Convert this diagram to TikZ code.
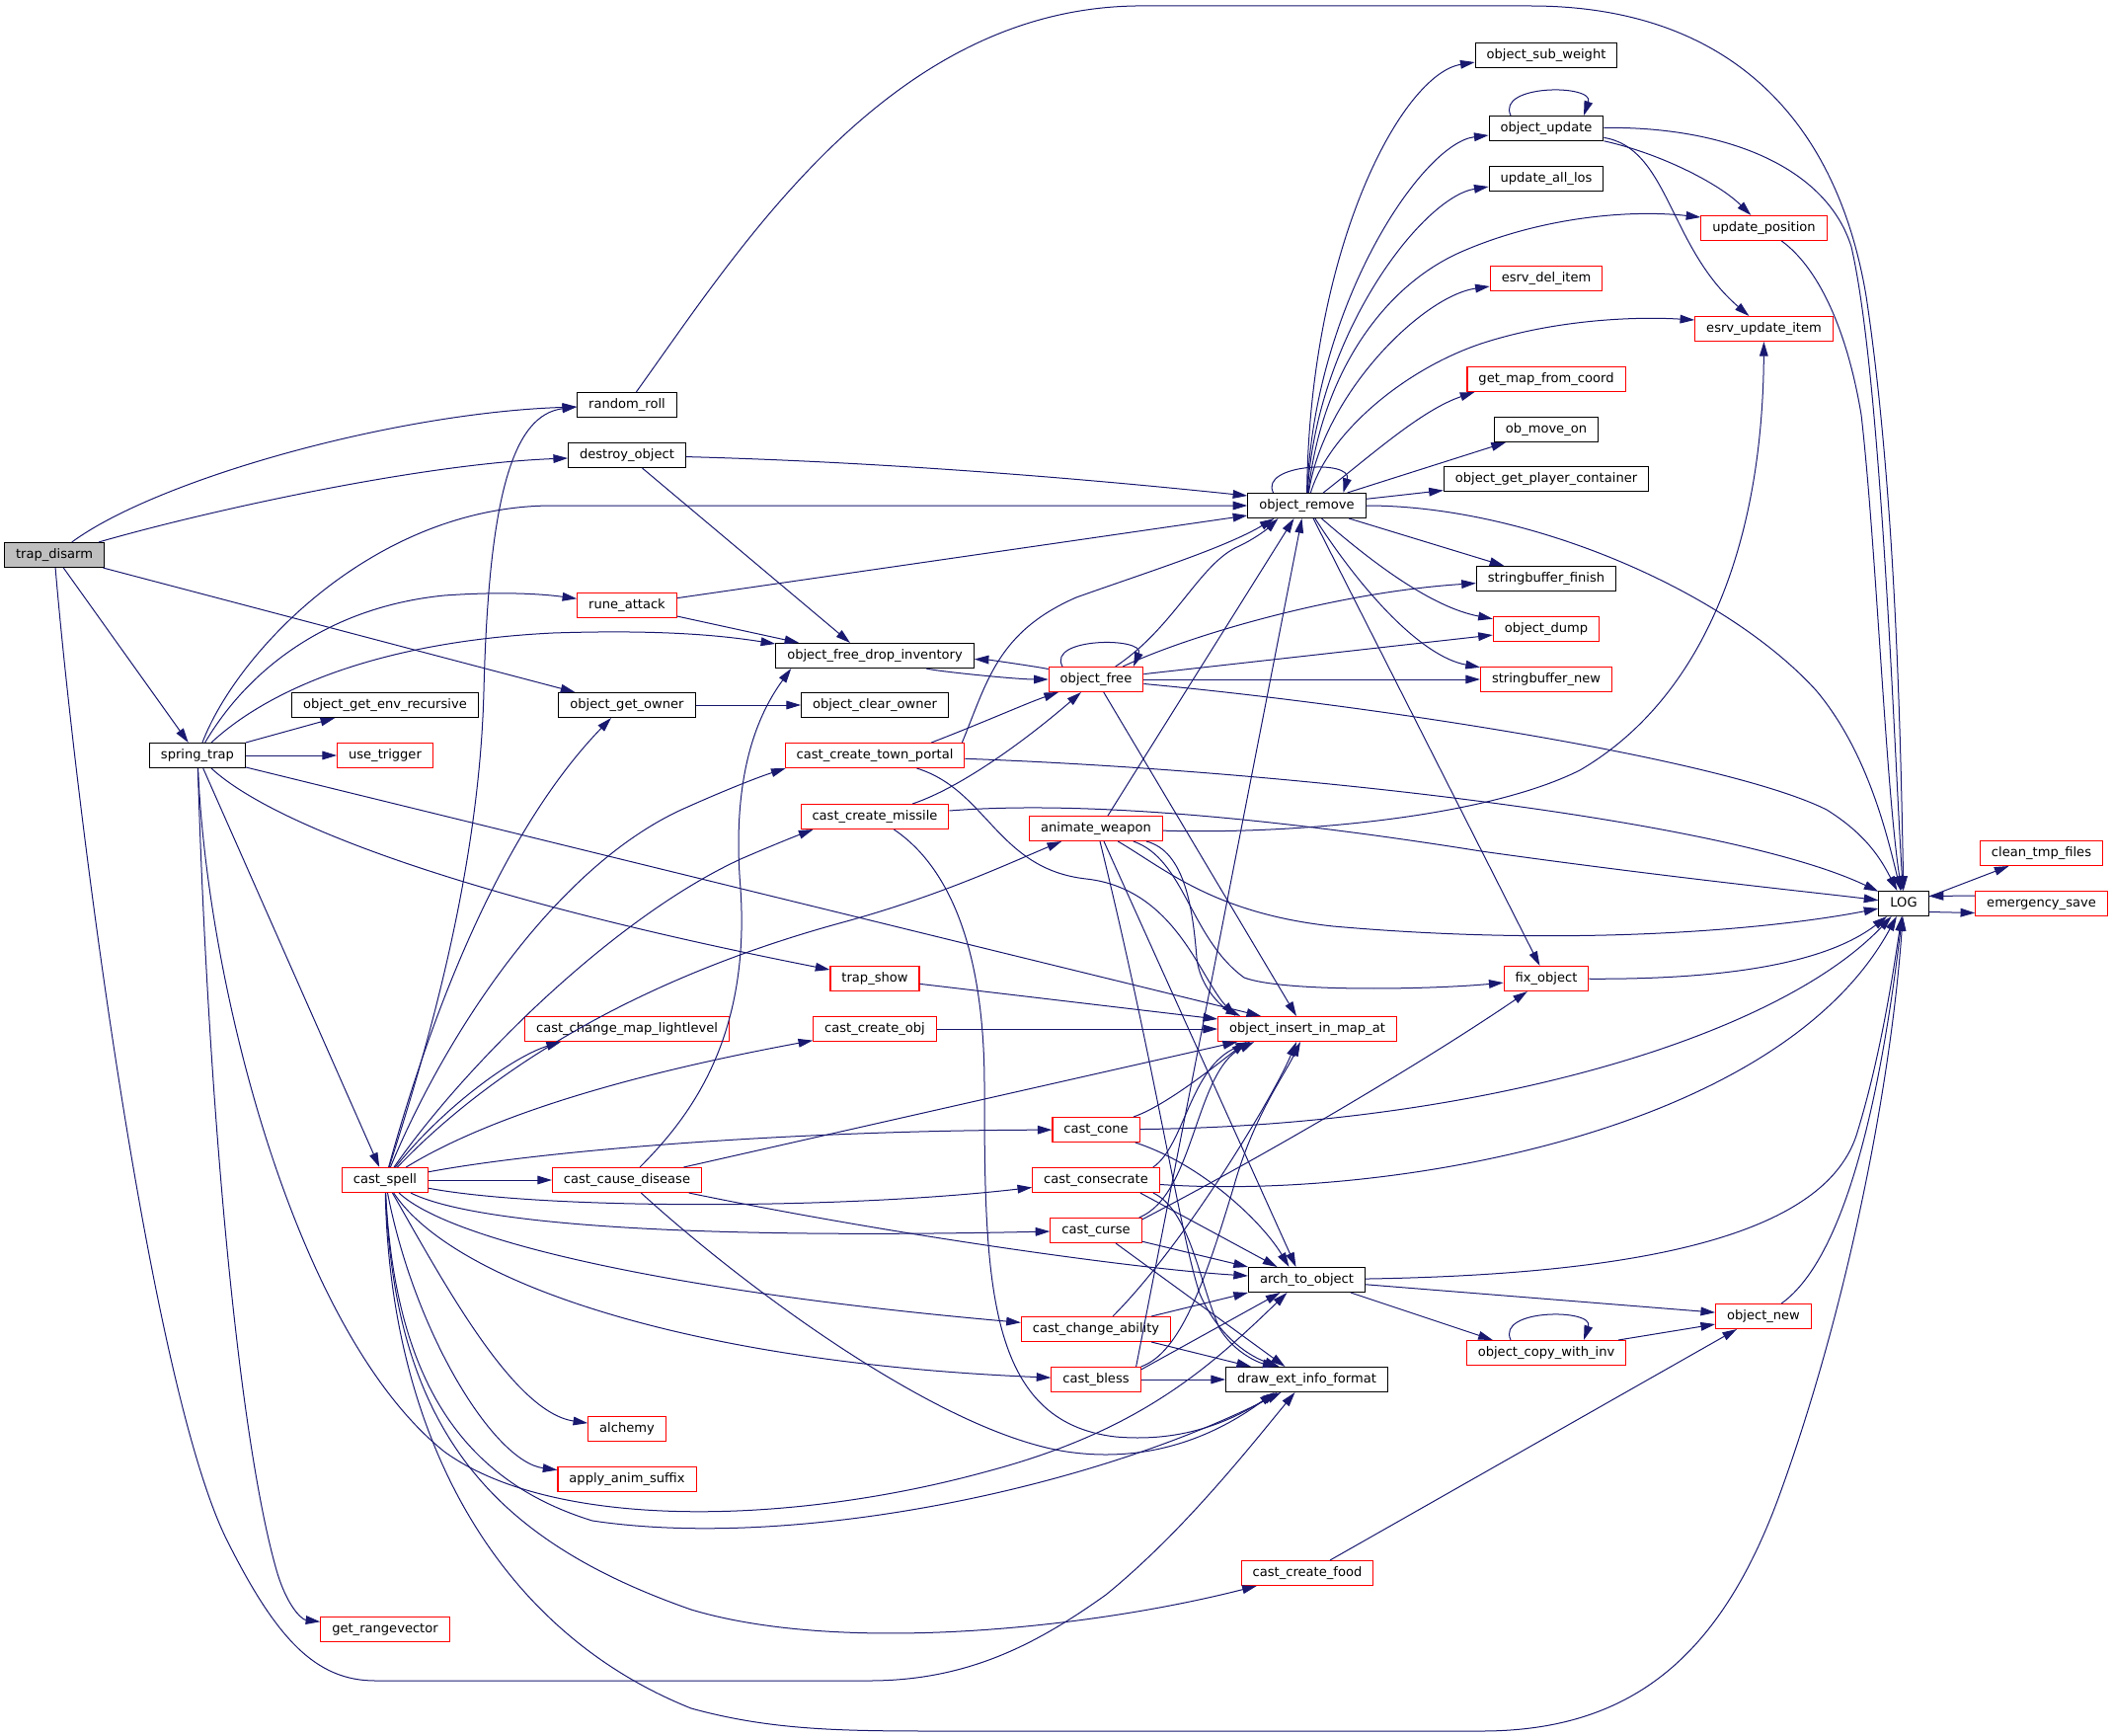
\documentclass[tikz,border=0pt]{standalone}
\usepackage{fontspec}
\setmainfont{DejaVu Sans}
\usetikzlibrary{arrows.meta,calc}
\definecolor{eb}{HTML}{191970}
\definecolor{gr}{HTML}{BFBFBF}
\begin{document}
\begin{tikzpicture}[x=0.75pt,y=-0.75pt,
  nbox/.style={draw=black,fill=white,line width=0.8pt,rectangle,inner xsep=8.6pt,inner ysep=0pt,
    minimum height=18.75pt,text height=7.2pt,text depth=2.1pt,font=\fontsize{9.8}{11}\selectfont},
  rbox/.style={nbox,draw=red},
  lnk/.style={draw=eb,line width=0.75pt,-{Triangle[length=11pt,width=6.5pt]}}]
\useasboundingbox (0,0) rectangle (2140,1758);
% nodes
\node[nbox,fill=gr] (td) at (55,562) {trap\_disarm};
\node[nbox] (rr) at (635,410) {random\_roll};
\node[nbox] (dob) at (635,461) {destroy\_object};
\node[rbox] (ra) at (635,613) {rune\_attack};
\node[nbox] (ogo) at (635,714) {object\_get\_owner};
\node[nbox] (oger) at (390,714) {object\_get\_env\_recursive};
\node[nbox] (st) at (200,765) {spring\_trap};
\node[rbox] (ut) at (390,765) {use\_trigger};
\node[nbox] (orm) at (1323.5,512) {object\_remove};
\node[nbox] (ofdi) at (886,664) {object\_free\_drop\_inventory};
\node[rbox] (of) at (1110,688) {object\_free};
\node[nbox] (oco) at (886,714) {object\_clear\_owner};
\node[rbox] (cctp) at (886,765) {cast\_create\_town\_portal};
\node[rbox] (ccm) at (886,827) {cast\_create\_missile};
\node[rbox] (aw) at (1110,839) {animate\_weapon};
\node[nbox] (osw) at (1566,56) {object\_sub\_weight};
\node[nbox] (ou) at (1566,130) {object\_update};
\node[nbox] (ual) at (1566,181) {update\_all\_los};
\node[rbox] (up) at (1786.5,231) {update\_position};
\node[rbox] (edi) at (1566,282) {esrv\_del\_item};
\node[rbox] (eui) at (1786.5,333) {esrv\_update\_item};
\node[rbox] (gmfc) at (1566,384) {get\_map\_from\_coord};
\node[nbox] (omo) at (1566,435) {ob\_move\_on};
\node[nbox] (ogpc) at (1566,485) {object\_get\_player\_container};
\node[nbox] (sbf) at (1566,586) {stringbuffer\_finish};
\node[rbox] (od) at (1566,637) {object\_dump};
\node[rbox] (sbn) at (1566,688) {stringbuffer\_new};
\node[rbox] (ctf) at (2067.5,864) {clean\_tmp\_files};
\node[nbox] (log) at (1928,915) {LOG};
\node[rbox] (es) at (2067.5,915) {emergency\_save};
\node[rbox] (fo) at (1566,991) {fix\_object};
\node[rbox] (ts) at (886,991) {trap\_show};
\node[rbox] (cco) at (886,1042) {cast\_create\_obj};
\node[rbox] (oima) at (1324,1042) {object\_insert\_in\_map\_at};
\node[rbox] (ccml) at (635,1042) {cast\_change\_map\_lightlevel};
\node[rbox] (cc) at (1110,1144) {cast\_cone};
\node[rbox] (ccons) at (1110,1195) {cast\_consecrate};
\node[rbox] (cs) at (390,1195) {cast\_spell};
\node[rbox] (ccd) at (635,1195) {cast\_cause\_disease};
\node[rbox] (ccur) at (1110,1246) {cast\_curse};
\node[nbox] (ato) at (1323.5,1296) {arch\_to\_object};
\node[rbox] (on) at (1786,1333) {object\_new};
\node[rbox] (cca) at (1110,1346) {cast\_change\_ability};
\node[rbox] (ocwi) at (1566,1370) {object\_copy\_with\_inv};
\node[rbox] (cb) at (1110,1397) {cast\_bless};
\node[nbox] (deif) at (1323.5,1397) {draw\_ext\_info\_format};
\node[rbox] (al) at (635,1447) {alchemy};
\node[rbox] (aas) at (635,1498) {apply\_anim\_suffix};
\node[rbox] (ccf) at (1324,1593) {cast\_create\_food};
\node[rbox] (grv) at (390,1650) {get\_rangevector};
% trap_disarm
\draw[lnk] (td) .. controls (160,485) and (400,418) .. ($(rr.west)+(0,2)$);
\draw[lnk] (td) .. controls (200,520) and (420,470) .. ($(dob.west)+(0,3)$);
\draw[lnk] (td) -- ($(ogo.north west)+(17,0)$);
\draw[lnk] (td) -- (st);
\draw[lnk] (td) .. controls (75,800) and (150,1400) .. (230,1560) .. controls (280,1660) and (320,1702) .. (380,1702) -- (880,1702) .. controls (980,1702) and (1050,1665) .. (1120,1615) .. controls (1200,1550) and (1270,1460) .. ($(deif.south)+(-12,0)$);
% spring_trap
\draw[lnk] (st) .. controls (240,660) and (380,512) .. (560,512) -- (orm);
\draw[lnk] (st) .. controls (250,680) and (330,615) .. (450,603) .. controls (520,598) and (560,603) .. (ra);
\draw[lnk] (st) .. controls (270,700) and (380,650) .. (560,641) .. controls (680,637) and (740,645) .. ($(ofdi.west)+(0,-12)$);
\draw[lnk] (st.north east) -- ($(oger.south west)+(44,0)$);
\draw[lnk] (st) -- (ut);
\draw[lnk] (st) -- ($(oima.north west)+(44,0)$);
\draw[lnk] (st) .. controls (270,830) and (450,905) .. (ts);
\draw[lnk] (st) -- (cs);
\draw[lnk] (st) .. controls (210,1000) and (300,1350) .. (450,1470) .. controls (560,1550) and (800,1545) .. (1000,1490) .. controls (1150,1450) and (1220,1390) .. ($(ato.south)+(-20,0)$);
\draw[lnk] (st) .. controls (210,1100) and (240,1450) .. (280,1590) .. controls (290,1625) and (305,1640) .. (grv);
% random_roll
\draw[lnk] (rr) .. controls (750,250) and (900,10) .. (1150,6) -- (1550,6) .. controls (1750,6) and (1860,120) .. (1890,300) .. controls (1920,500) and (1925,750) .. (log);
% destroy_object, rune_attack, object_get_owner
\draw[lnk] (dob) .. controls (900,468) and (1100,485) .. ($(orm.west)+(0,-10)$);
\draw[lnk] (dob) -- ($(ofdi.north)+(-25,0)$);
\draw[lnk] (ra) -- ($(orm.west)+(0,10)$);
\draw[lnk] (ra) -- ($(ofdi.north west)+(24,0)$);
\draw[lnk] (ogo) -- (oco);
% object_free_drop_inventory / object_free
\draw[lnk] (ofdi) .. controls (950,680) and (1030,688) .. (of);
\draw[lnk] (of) .. controls (1050,675) and (1000,668) .. (ofdi);
\draw[lnk] ($(of.north)+(-34,0)$) .. controls (1060,645) and (1160,645) .. ($(of.north)+(38,0)$);
\draw[lnk] (of) .. controls (1190,635) and (1215,570) .. (1255,553) .. controls (1268,547) and (1282,537) .. ($(orm.south)+(-29,0)$);
\draw[lnk] (of) .. controls (1200,645) and (1350,600) .. (sbf);
\draw[lnk] (of) -- (od);
\draw[lnk] (of) -- (sbn);
\draw[lnk] (of) .. controls (1400,715) and (1750,770) .. (1850,820) .. controls (1890,845) and (1905,870) .. (log);
\draw[lnk] (of) -- ($(oima.north)+(-11,0)$);
% object_remove
\draw[lnk] ($(orm.north)+(-34,0)$) .. controls (1275,470) and (1370,465) .. ($(orm.north)+(37,0)$);
\draw[lnk] (orm) .. controls (1326,250) and (1420,75) .. ($(osw.west)+(0,7)$);
\draw[lnk] (orm) .. controls (1330,310) and (1440,145) .. ($(ou.west)+(0,7)$);
\draw[lnk] (orm) .. controls (1333,340) and (1440,200) .. ($(ual.west)+(0,8)$);
\draw[lnk] (orm) .. controls (1338,380) and (1400,290) .. (1480,255) .. controls (1560,220) and (1650,212) .. ($(up.west)+(0,-11)$);
\draw[lnk] (orm) .. controls (1340,400) and (1440,300) .. ($(edi.west)+(0,8)$);
\draw[lnk] (orm) .. controls (1345,440) and (1420,375) .. (1500,348) .. controls (1570,325) and (1650,320) .. ($(eui.west)+(0,-9)$);
\draw[lnk] (orm) .. controls (1390,460) and (1440,415) .. ($(gmfc.south west)+(8,0)$);
\draw[lnk] (orm) -- (omo);
\draw[lnk] (orm) -- (ogpc);
\draw[lnk] (orm) .. controls (1550,512) and (1750,600) .. (1840,700) .. controls (1890,760) and (1910,840) .. (log);
\draw[lnk] (orm) -- (sbf);
\draw[lnk] (orm) .. controls (1390,570) and (1450,615) .. (od);
\draw[lnk] (orm) .. controls (1380,600) and (1440,665) .. (sbn);
\draw[lnk] (orm) -- (fo);
% object_update, update_position, fix_object, object_new
\draw[lnk] ($(ou.north)+(-36,0)$) .. controls (1515,85) and (1615,85) .. ($(ou.north)+(38,0)$);
\draw[lnk] (ou) .. controls (1680,155) and (1740,185) .. (up);
\draw[lnk] (ou) .. controls (1690,150) and (1690,250) .. (eui);
\draw[lnk] (ou) .. controls (1750,128) and (1850,170) .. (1875,250) .. controls (1905,380) and (1918,750) .. (log);
\draw[lnk] (up) .. controls (1840,270) and (1870,330) .. (1885,420) .. controls (1900,550) and (1910,800) .. (log);
\draw[lnk] (fo) .. controls (1750,992) and (1850,975) .. (log);
\draw[lnk] (on) .. controls (1860,1280) and (1900,1150) .. (log);
% LOG
\draw[lnk] ($(log.east)+(0,-7)$) -- ($(ctf.south)+(-33,0)$);
\draw[lnk] ($(log.east)+(0,8.5)$) -- ($(es.west)+(0,9.5)$);
\draw[lnk] ($(es.west)+(0,-8)$) -- ($(log.east)+(0,-7.5)$);
% cast_spell
\draw[lnk] (cs) .. controls (420,1100) and (485,900) .. (490,700) .. controls (495,500) and (520,420) .. ($(rr.west)+(0,2)$);
\draw[lnk] (cs) .. controls (430,1050) and (500,850) .. ($(ogo.south)+(-16,0)$);
\draw[lnk] (cs) .. controls (450,1050) and (560,880) .. (690,820) .. controls (730,802) and (765,788) .. ($(cctp.south west)+(1,0)$);
\draw[lnk] (cs) .. controls (470,1080) and (620,930) .. (750,870) .. controls (780,857) and (805,847) .. ($(ccm.south west)+(13,0)$);
\draw[lnk] (cs) .. controls (500,1080) and (650,990) .. (850,935) .. controls (950,908) and (1020,875) .. ($(aw.south west)+(33,0)$);
\draw[lnk] (cs) .. controls (450,1120) and (520,1070) .. ($(ccml.south west)+(37,0)$);
\draw[lnk] (cs) .. controls (480,1140) and (600,1095) .. (cco);
\draw[lnk] (cs) .. controls (550,1165) and (800,1145) .. (cc);
\draw[lnk] (cs) -- (ccd);
\draw[lnk] (cs) .. controls (550,1225) and (850,1225) .. (ccons);
\draw[lnk] (cs) .. controls (480,1240) and (700,1255) .. (ccur);
\draw[lnk] (cs) .. controls (460,1260) and (700,1310) .. (cca);
\draw[lnk] (cs) .. controls (460,1300) and (700,1380) .. (cb);
\draw[lnk] (cs) .. controls (450,1300) and (520,1430) .. (al);
\draw[lnk] (cs) .. controls (420,1350) and (500,1480) .. (aas);
\draw[lnk] (cs) .. controls (400,1400) and (470,1500) .. (600,1540) .. controls (800,1570) and (1100,1510) .. ($(deif.south)+(-26,0)$);
\draw[lnk] (cs) .. controls (400,1450) and (500,1560) .. (700,1630) .. controls (850,1675) and (1100,1650) .. (ccf);
\draw[lnk] (cs) .. controls (395,1450) and (500,1650) .. (700,1730) .. controls (780,1752) and (850,1753) .. (950,1753) -- (1500,1753) .. controls (1650,1753) and (1740,1680) .. (1800,1520) .. controls (1870,1330) and (1915,1100) .. (log);
% cast_cause_disease
\draw[lnk] (ccd) .. controls (700,1130) and (760,1050) .. (750,900) .. controls (740,780) and (770,720) .. ($(ofdi.south west)+(16,0)$);
\draw[lnk] (ccd) -- ($(oima.south west)+(20,0)$);
\draw[lnk] (ccd) .. controls (900,1250) and (1150,1285) .. ($(ato.west)+(0,-4)$);
\draw[lnk] (ccd) .. controls (750,1300) and (950,1450) .. (1080,1470) .. controls (1180,1485) and (1250,1440) .. ($(deif.south)+(-33,0)$);
% cast_create_town_portal
\draw[lnk] ($(cctp.north east)+(-3,0)$) .. controls (1000,690) and (1010,640) .. (1090,605) .. controls (1160,580) and (1240,555) .. ($(orm.south)+(-33,0)$);
\draw[lnk] ($(cctp.north east)+(-34,0)$) .. controls (1000,730) and (1040,712) .. (of);
\draw[lnk] (cctp) .. controls (1300,780) and (1750,830) .. (log);
\draw[lnk] (cctp) .. controls (1000,800) and (1010,880) .. (1100,890) .. controls (1190,900) and (1215,990) .. ($(oima.north west)+(18,0)$);
% cast_create_missile
\draw[lnk] (ccm) .. controls (980,795) and (1050,740) .. (of);
\draw[lnk] (ccm) .. controls (1100,810) and (1300,830) .. (1500,862) .. controls (1700,890) and (1850,905) .. (log);
\draw[lnk] (ccm) .. controls (950,870) and (997,940) .. (997,1100) .. controls (997,1300) and (1000,1440) .. (1130,1455) .. controls (1210,1462) and (1260,1430) .. ($(deif.south)+(-30,0)$);
% animate_weapon
\draw[lnk] ($(aw.north)+(12,0)$) -- ($(orm.south)+(-13,0)$);
\draw[lnk] (aw) .. controls (1300,845) and (1500,830) .. (1600,780) .. controls (1720,710) and (1785,560) .. (eui);
\draw[lnk] (aw) .. controls (1180,880) and (1230,925) .. (1350,938) .. controls (1600,960) and (1800,940) .. (log);
\draw[lnk] (aw) .. controls (1200,870) and (1205,950) .. (1260,990) .. controls (1300,1005) and (1450,1002) .. (fo);
\draw[lnk] (aw) .. controls (1200,862) and (1208,920) .. (1212,970) .. controls (1215,1000) and (1238,1020) .. ($(oima.north west)+(23,0)$);
\draw[lnk] ($(aw.south)+(8,0)$) -- ($(ato.north)+(-11,0)$);
\draw[lnk] ($(aw.south)+(4,0)$) .. controls (1170,1080) and (1195,1250) .. (1215,1310) .. controls (1232,1350) and (1262,1372) .. ($(deif.north)+(-28,0)$);
% cast_cone
\draw[lnk] (cc) .. controls (1180,1120) and (1230,1080) .. ($(oima.south west)+(29,0)$);
\draw[lnk] (cc) .. controls (1500,1140) and (1800,1050) .. (log);
\draw[lnk] (cc) .. controls (1220,1180) and (1280,1240) .. ($(ato.north)+(-18,0)$);
% cast_consecrate
\draw[lnk] ($(ccons.north east)+(-7,0)$) .. controls (1200,1160) and (1205,1080) .. ($(oima.south west)+(33,0)$);
\draw[lnk] (ccons) .. controls (1400,1215) and (1800,1150) .. (log);
\draw[lnk] ($(ccons.south east)+(-20,0)$) -- ($(ato.north)+(-30,0)$);
\draw[lnk] ($(ccons.south east)+(-7,0)$) .. controls (1205,1225) and (1215,1300) .. (1235,1345) .. controls (1250,1370) and (1275,1380) .. ($(deif.north)+(-30,0)$);
% cast_curse
\draw[lnk] ($(ccur.north east)+(-3,0)$) .. controls (1210,1210) and (1210,1085) .. ($(oima.south west)+(37,0)$);
\draw[lnk] ($(ccur.north east)+(0,2)$) .. controls (1300,1160) and (1450,1070) .. (fo);
\draw[lnk] (ccur) -- (ato.north west);
\draw[lnk] ($(ccur.south)+(20,0)$) -- ($(deif.north)+(-22,0)$);
% cast_change_ability
\draw[lnk] ($(cca.north)+(17,0)$) .. controls (1200,1260) and (1290,1110) .. ($(oima.south)+(-11,0)$);
\draw[lnk] ($(cca.north east)+(-20,0)$) -- (ato.south west);
\draw[lnk] ($(cca.south east)+(-20,0)$) -- ($(deif.north west)+(26,0)$);
% cast_bless
\draw[lnk] ($(cb.north east)+(-5,0)$) -- ($(orm.south)+(-5,0)$);
\draw[lnk] (cb.north east) .. controls (1195,1370) and (1220,1300) .. (1250,1200) .. controls (1270,1130) and (1300,1090) .. ($(oima.south)+(-7,0)$);
\draw[lnk] ($(cb.north east)+(0,3)$) -- ($(ato.south)+(-27,0)$);
\draw[lnk] (cb) -- (deif);
% trap_show, cast_create_obj
\draw[lnk] (ts) -- ($(oima.west)+(0,-10)$);
\draw[lnk] (cco) -- (oima);
% arch_to_object
\draw[lnk] (ato) .. controls (1700,1290) and (1850,1240) .. (1880,1150) .. controls (1905,1070) and (1918,980) .. (log);
\draw[lnk] ($(ato.south east)+(-15,0)$) -- ($(ocwi.north west)+(27,0)$);
\draw[lnk] (ato) -- (on);
% object_copy_with_inv, cast_create_food
\draw[lnk] ($(ocwi.north)+(-36,0)$) .. controls (1515,1325) and (1615,1325) .. ($(ocwi.north)+(38,0)$);
\draw[lnk] ($(ocwi.north east)+(-8,0)$) -- (on);
\draw[lnk] ($(ccf.north)+(23,0)$) -- ($(on.south)+(-27,0)$);
\end{tikzpicture}
\end{document}
